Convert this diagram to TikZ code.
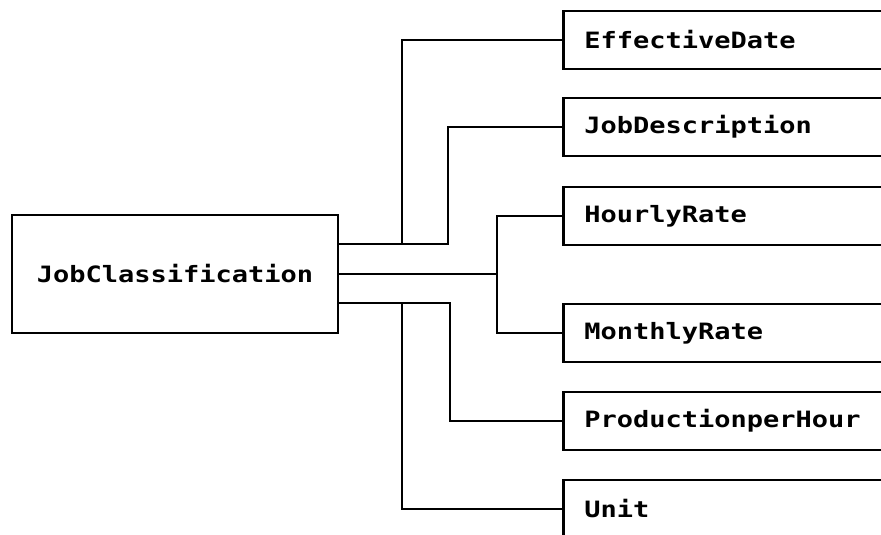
\documentclass[tikz,border=0pt]{standalone}
\usepackage{fontspec}
\newfontfamily\termfont[FakeStretch=1.2]{DejaVu Sans Mono}
\usetikzlibrary{calc}
\tikzset{
	record/.style={draw, line width=2.8pt, font=\termfont\bfseries\fontsize{22.5}{24}\selectfont},
	field/.style={record, anchor=west, minimum height=58pt, text width=320pt, inner xsep=21pt, align=left},
	wire/.style={line width=2.5pt}
}

\begin{document}
\begin{tikzpicture}[x=1pt, y=-1pt]
		%%%%% START %%%%%
		\useasboundingbox (0, 0) rectangle (881, 535);
		\clip (0, 0) rectangle (881, 535);
		
		\node[record, minimum width=326pt, minimum height=118pt] (jc) at (175, 274) {JobClassification};
		
		\node[field] (ed) at (562, 40) {EffectiveDate};
		\node[field] (jd) at (562, 127) {JobDescription};
		\node[field] (hr) at (562, 216) {HourlyRate};
		\node[field] (mr) at (562, 333) {MonthlyRate};
		\node[field] (ph) at (562, 421) {ProductionperHour};
		\node[field] (un) at (562, 509) {Unit};
		
		% upper branch
		\coordinate (up) at (jc.east |- 0, 244);
		\coordinate (upa) at (402, 244);
		\coordinate (upb) at (448, 244);
		\draw[wire] (up) -- (upb) |- (jd.west);
		\draw[wire] (upa) |- (ed.west);
		
		% middle branch
		\coordinate (mid) at (497, 274);
		\draw[wire] (jc.east) -- (mid);
		\draw[wire] (hr.west) -| (mid) |- (mr.west);
		
		% lower branch
		\coordinate (lo) at (jc.east |- 0, 303);
		\coordinate (loa) at (402, 303);
		\coordinate (lob) at (450, 303);
		\draw[wire] (lo) -- (lob) |- (ph.west);
		\draw[wire] (loa) |- (un.west);
		
		%%%%% END %%%%%
	\end{tikzpicture}
\end{document}
